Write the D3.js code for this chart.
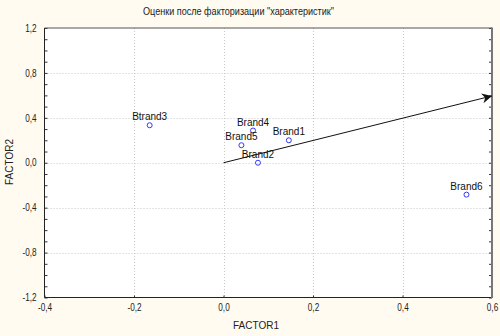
<!DOCTYPE html>
<html><head><meta charset="utf-8">
<script src="https://cdn.jsdelivr.net/npm/d3@7"></script>
<style>
html,body{margin:0;padding:0;background:#fffbf0;}
svg{display:block;}
text{font-family:"Liberation Sans","Arial",sans-serif;}
</style></head>
<body>
<svg id="c" width="500" height="336"></svg>
<script>
const title = 'Оценки после факторизации "характеристик"';
const brands = ["Brand1","Brand2","Btrand3","Brand4","Brand5","Brand6"];
const factor1 = [0.146, 0.077, -0.165, 0.066, 0.040, 0.543];
const factor2 = [0.200, 0.000, 0.334, 0.287, 0.156, -0.284];
const arrowFrom = [0, 0];
const arrowTo = [0.6, 0.595];
const xTicks = [-0.4, -0.2, 0.0, 0.2, 0.4, 0.6];
const yTicks = [-1.2, -0.8, -0.4, 0.0, 0.4, 0.8, 1.2];
const yMinor = d3.range(-12, 13).map(v => v / 10);

const svg = d3.select("#c");
const L = 44.5, R = 492, T = 28, B = 297.5;
const x = d3.scaleLinear().domain([-0.4, 0.6]).range([L, R]);
const y = d3.scaleLinear().domain([-1.2, 1.2]).range([B, T]);
const fmt = v => d3.format(".1f")(v).replace("−", "-").replace(".", ",");
const SX = 0.82;

svg.append("rect").attr("x", L).attr("y", T).attr("width", R - L).attr("height", B - T).attr("fill", "#fff");

// grid
const g = svg.append("g").attr("stroke", "#c8c8c8").attr("stroke-dasharray", "1,2").attr("stroke-width", 1);
xTicks.slice(1, -1).forEach(v => g.append("line").attr("x1", Math.round(x(v)) + 0.5).attr("x2", Math.round(x(v)) + 0.5).attr("y1", T).attr("y2", B));
yTicks.slice(1, -1).forEach(v => g.append("line").attr("y1", Math.round(y(v)) + 0.5).attr("y2", Math.round(y(v)) + 0.5).attr("x1", L).attr("x2", R));

// axes
const ax = svg.append("g").attr("transform", `translate(0,${B})`)
  .call(d3.axisBottom(x).tickValues(xTicks).tickFormat(fmt).tickSize(-2).tickPadding(6));
const ay = svg.append("g").attr("transform", `translate(${L},0)`)
  .call(d3.axisLeft(y).tickValues(yMinor).tickFormat(v => yTicks.some(t => Math.abs(t - v) < 1e-9) ? fmt(v) : "").tickSize(-3).tickPadding(8));
const ayr = svg.append("g").attr("transform", `translate(${R},0)`)
  .call(d3.axisRight(y).tickValues(yMinor).tickFormat("").tickSize(-3));
[ax, ay, ayr].forEach(a => {
  a.select(".domain").remove();
  a.selectAll(".tick line").attr("stroke", "#333");
  a.selectAll("text").attr("font-size", 10).attr("fill", "#222");
});
ax.selectAll("text").attr("transform", `scale(${SX},1)`);
ay.selectAll("text").attr("x", -8 / SX).attr("transform", `scale(${SX},1)`);

// frame
svg.append("line").attr("x1", L).attr("x2", L).attr("y1", T).attr("y2", B).attr("stroke", "#222");
svg.append("line").attr("x1", L).attr("x2", R).attr("y1", B).attr("y2", B).attr("stroke", "#222");
svg.append("line").attr("x1", L).attr("x2", R).attr("y1", T).attr("y2", T).attr("stroke", "#555");
svg.append("line").attr("x1", R).attr("x2", R).attr("y1", T - 0.5).attr("y2", B + 0.5).attr("stroke", "#777").attr("stroke-width", 2);

// arrow
svg.append("defs").append("marker").attr("id", "ah").attr("viewBox", "0 0 10 10")
  .attr("refX", 10).attr("refY", 5).attr("markerWidth", 16).attr("markerHeight", 10)
  .attr("markerUnits", "userSpaceOnUse").attr("orient", "auto")
  .append("path").attr("d", "M0,0 L10,5 L0,10 L3,5 Z").attr("fill", "#111");
svg.append("line").attr("x1", x(arrowFrom[0])).attr("y1", y(arrowFrom[1]))
  .attr("x2", x(arrowTo[0])).attr("y2", y(arrowTo[1]))
  .attr("stroke", "#111").attr("stroke-width", 1).attr("marker-end", "url(#ah)");

// points
const pts = svg.append("g");
brands.forEach((b, i) => {
  pts.append("circle").attr("cx", x(factor1[i])).attr("cy", y(factor2[i])).attr("r", 2.5)
    .attr("fill", "none").attr("stroke", "#3535ff").attr("stroke-width", 1);
  pts.append("text").attr("x", x(factor1[i])).attr("y", y(factor2[i]) - 5)
    .attr("text-anchor", "middle").attr("font-size", 10).attr("fill", "#111").text(b);
});

// titles
svg.append("text").attr("x", 238.5).attr("y", 15).attr("text-anchor", "middle")
  .attr("font-size", 11).attr("textLength", 191).attr("lengthAdjust", "spacingAndGlyphs")
  .attr("fill", "#222").text(title);
svg.append("text").attr("x", 256).attr("y", 329).attr("text-anchor", "middle")
  .attr("font-size", 10).attr("fill", "#222").text("FACTOR1");
svg.append("text").attr("transform", "translate(13,162) rotate(-90)").attr("text-anchor", "middle")
  .attr("font-size", 10).attr("fill", "#222").text("FACTOR2");
</script>
</body></html>
